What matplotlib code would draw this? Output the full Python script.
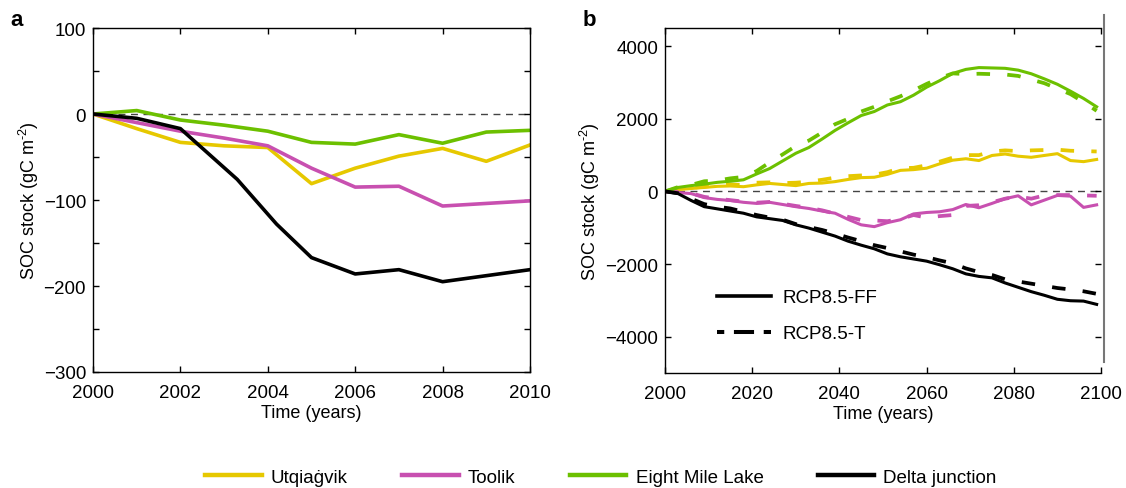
import matplotlib
matplotlib.use("Agg")
import matplotlib.pyplot as plt
from matplotlib.lines import Line2D
import numpy as np

plt.rcParams['font.family'] = ['Liberation Sans', 'DejaVu Sans']
plt.rcParams['mathtext.fontset'] = 'custom'
plt.rcParams['mathtext.rm'] = 'Liberation Sans'
plt.rcParams['mathtext.default'] = 'regular'

# ---------------- data ----------------
sites = ["Utqiaġvik", "Toolik", "Eight Mile Lake", "Delta junction"]
colors = ["#E6C800", "#C850B0", "#6CC000", "#000000"]

# Panel a (2000-2010)
years_a = [2000, 2001, 2002, 2003, 2004, 2005, 2006, 2007, 2008, 2009, 2010]
utq_a = [0, -17, -33, -37, -39, -81, -63, -49, -40, -55, -36]
tool_a = [0, -10, -20, -28, -37, -63, -85, -84, -107, -104, -101]
eml_a = [0, 4, -7, -13, -20, -33, -35, -24, -34, -21, -19]
years_dj_a = [2000, 2001, 2002, 2003.3, 2004.2, 2005, 2006, 2007, 2008, 2009, 2010]
dj_a = [0, -5, -17, -76, -128, -167, -186, -181, -195, -188, -181]

# Panel b (2000-2099), RCP8.5-FF (solid) and RCP8.5-T (dashed)
years_b = [2000, 2003, 2006, 2009, 2012, 2015, 2018, 2021, 2024, 2027, 2030, 2033,
           2036, 2039, 2042, 2045, 2048, 2051, 2054, 2057, 2060, 2063, 2066, 2069,
           2072, 2075, 2078, 2081, 2084, 2087, 2090, 2093, 2096, 2099]

eml_ff = [0, 110, 160, 200, 250, 280, 320, 480, 630, 840, 1050, 1210,
          1440, 1680, 1890, 2090, 2200, 2380, 2470, 2650, 2870, 3050, 3250, 3360,
          3410, 3400, 3390, 3340, 3240, 3100, 2950, 2760, 2560, 2330]
eml_t = [0, 120, 180, 280, 300, 360, 400, 560, 800, 1020, 1250, 1400,
         1620, 1850, 2000, 2200, 2330, 2480, 2620, 2780, 2960, 3120, 3250, 3230,
         3240, 3230, 3220, 3180, 3080, 2980, 2830, 2680, 2460, 2220]
utq_ff = [0, 50, 80, 110, 140, 150, 130, 180, 220, 190, 160, 220,
          230, 270, 330, 380, 390, 470, 580, 600, 640, 760, 860, 900,
          850, 990, 1030, 970, 940, 990, 1040, 850, 820, 880]
utq_t = [0, 60, 100, 130, 170, 190, 180, 240, 250, 230, 240, 270,
         320, 380, 420, 440, 460, 530, 640, 650, 720, 820, 930, 1000,
         1000, 1100, 1130, 1110, 1130, 1140, 1150, 1120, 1110, 1100]
tool_ff = [0, -30, -60, -170, -220, -250, -300, -330, -300, -360, -420, -470,
           -540, -600, -770, -920, -970, -860, -780, -620, -580, -560, -500, -360,
           -450, -330, -200, -120, -370, -240, -110, -130, -440, -370]
tool_t = [0, -20, -50, -150, -200, -240, -280, -310, -290, -340, -400, -450,
          -520, -610, -700, -790, -800, -820, -760, -650, -720, -680, -650, -400,
          -380, -300, -200, -140, -200, -110, -100, -100, -110, -120]
dj_ff = [0, -60, -250, -420, -480, -540, -600, -700, -750, -800, -920, -1010,
         -1120, -1230, -1370, -1480, -1580, -1720, -1800, -1860, -1920, -2020, -2130, -2270,
         -2340, -2380, -2520, -2640, -2760, -2860, -2970, -3010, -3020, -3110]
dj_t = [0, -50, -200, -350, -420, -470, -560, -650, -720, -780, -900, -980,
        -1060, -1160, -1270, -1370, -1480, -1560, -1650, -1740, -1810, -1900, -1980, -2120,
        -2220, -2300, -2420, -2480, -2540, -2600, -2660, -2700, -2750, -2820]

scenario_labels = ["RCP8.5-FF", "RCP8.5-T"]

# ---------------- figure ----------------
W, H = 1126, 489
fig = plt.figure(figsize=(W / 100, H / 100), dpi=100)

def fx(px):
    return px / W

def fy(py):
    return 1 - py / H

axa = fig.add_axes([fx(93), fy(373), fx(530) - fx(93), fy(29) - fy(373)])
axb = fig.add_axes([fx(665), fy(374), fx(1101) - fx(665), fy(29) - fy(374)])

FS = 13.5
ylab = r"SOC stock (gC m$^{\text{-2}}$)"
for ax in (axa, axb):
    ax.tick_params(direction='in', length=4.5, width=1, top=True, right=True,
                   labelsize=FS, which='both')
    ax.tick_params(axis='x', pad=9, which='both')
    ax.tick_params(axis='y', pad=5, which='both')
    for s in ax.spines.values():
        s.set_linewidth(1.0)

# Panel a
lw_a = 2.6
axa.axhline(0, color='#444444', lw=1.0, dashes=(5, 4), zorder=1)
axa.plot(years_a, eml_a, color=colors[2], lw=lw_a)
axa.plot(years_a, utq_a, color=colors[0], lw=lw_a)
axa.plot(years_a, tool_a, color=colors[1], lw=lw_a)
axa.plot(years_dj_a, dj_a, color=colors[3], lw=lw_a)
axa.set_xlim(2000, 2010)
axa.set_ylim(-300, 100)
axa.set_xticks([2000, 2002, 2004, 2006, 2008, 2010])
axa.set_yticks([-300, -200, -100, 0, 100])
axa.set_yticks([-250, -150, -50, 50], minor=True)
axa.set_xlabel("Time (years)", fontsize=FS - 0.5, labelpad=2)
axa.set_ylabel(ylab, fontsize=FS - 0.5, labelpad=2)

# Panel b
lw_b = 2.2
lw_bd = 2.7
dash = (3.6, 4.6)
axb.axhline(0, color='#444444', lw=1.0, dashes=(5, 4), zorder=1)
series_b = [(utq_ff, utq_t, colors[0]), (tool_ff, tool_t, colors[1]),
            (eml_ff, eml_t, colors[2]), (dj_ff, dj_t, colors[3])]
for ff, t, c in series_b:
    axb.plot(years_b, t, color=c, lw=lw_bd, dashes=dash)
    axb.plot(years_b, ff, color=c, lw=lw_b)
axb.set_xlim(2000, 2100)
axb.set_ylim(-5000, 4500)
axb.set_xticks([2000, 2020, 2040, 2060, 2080, 2100])
axb.set_yticks([-4000, -2000, 0, 2000, 4000])
axb.set_xlabel("Time (years)", fontsize=FS - 0.5, labelpad=2)
axb.set_ylabel(ylab, fontsize=FS - 0.5, labelpad=2)
axb.spines['right'].set_visible(False)
fig.add_artist(Line2D([fx(1103.5), fx(1103.5)], [fy(16), fy(363)], color='#777777', lw=1.5))

sc_handles = [Line2D([], [], color='black', lw=2.6),
              Line2D([], [], color='black', lw=2.9, linestyle=(3.2, (5.0, 2.4)))]
axb.legend(sc_handles, scenario_labels, loc='lower left', bbox_to_anchor=(0.08, 0.04),
           frameon=False, fontsize=FS, handlelength=2.9, labelspacing=1.0, handletextpad=0.6)

# Panel labels
fig.text(fx(10), fy(20), "a", fontsize=16, fontweight='bold', va='center', ha='left')
fig.text(fx(583), fy(20), "b", fontsize=16, fontweight='bold', va='center', ha='left')

# Bottom legend
site_handles = [Line2D([], [], color=c, lw=3.2) for c in colors]
fig.legend(site_handles, sites, loc='center', bbox_to_anchor=(fx(601), fy(478)), ncol=4,
           frameon=False, fontsize=FS, handlelength=3.0, columnspacing=2.9,
           handletextpad=0.5)

fig.savefig("out.png", dpi=100)
